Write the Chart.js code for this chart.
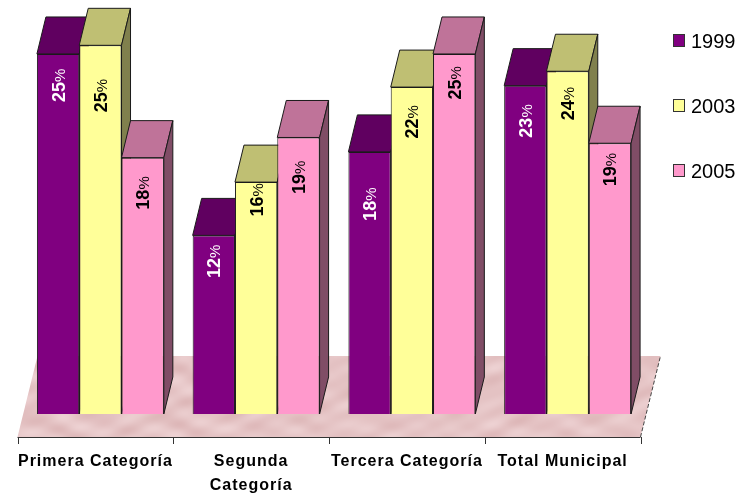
<!DOCTYPE html>
<html>
<head>
<meta charset="utf-8">
<style>
  html, body { margin: 0; padding: 0; background: #fff; }
  canvas { display: block; filter: blur(0.35px); }
</style>
<script src="https://cdn.jsdelivr.net/npm/chart.js@4"></script>
</head>
<body>
<canvas id="barChart" width="736" height="495"></canvas>
<script>
// Data
const categories = ['Primera Categoría', ['Segunda', 'Categoría'], 'Tercera Categoría', 'Total Municipal'];
const seriesNames = ['1999', '2003', '2005'];
const values1999 = [25, 12.4, 18.2, 22.8];
const values2003 = [25.6, 16.1, 22.7, 23.8];
const values2005 = [17.8, 19.2, 25, 18.8];
const labels1999 = ['25', '12', '18', '23'];
const labels2003 = ['25', '16', '22', '24'];
const labels2005 = ['18', '19', '25', '19'];

// Distance in px from the top of each bar to the middle of its label
const labelDrop = [
    [31, 25.5, 52, 35],
    [50, 17.5, 34.5, 32],
    [35, 39.5, 28.5, 26]
];

const frontColors = ['#800080', '#FFFF99', '#FF99CC'];
const topColors = ['#600060', '#BFBF73', '#BF7399'];
const sideColors = ['#400040', '#80804D', '#804D66'];
const labelColors = ['#ffffff', '#000000', '#000000'];
const edgeColor = '#1a1a1a';

const depthX = 9;
const depthY = 37;
const floorDepthX = 20;
const floorDepthY = 81;
const axisShift = 5;

// Mottled texture of the floor
function floorPattern(ctx) {
    const tile = document.createElement('canvas');
    tile.width = 736;
    tile.height = 495;
    const tileCtx = tile.getContext('2d');
    const img = tileCtx.createImageData(736, 495);
    for (let y = 0; y < 495; y++) {
        for (let x = 0; x < 736; x++) {
            const n = Math.sin(x * 0.09 + Math.sin(y * 0.11) * 2.5)
                + Math.sin(y * 0.23 + Math.sin(x * 0.05) * 3)
                + Math.sin((x + y * 2) * 0.17) * 0.6;
            const i = (y * 736 + x) * 4;
            img.data[i] = 229 + n * 3;
            img.data[i + 1] = 196 + n * 5;
            img.data[i + 2] = 197 + n * 5;
            img.data[i + 3] = 255;
        }
    }
    tileCtx.putImageData(img, 0, 0);
    return ctx.createPattern(tile, 'no-repeat');
}

function polygon(ctx, points, fill, stroke) {
    ctx.beginPath();
    points.forEach((p, i) => i ? ctx.lineTo(p[0], p[1]) : ctx.moveTo(p[0], p[1]));
    ctx.closePath();
    ctx.fillStyle = fill;
    ctx.fill();
    if (stroke) {
        ctx.strokeStyle = stroke;
        ctx.lineWidth = 1;
        ctx.stroke();
    }
}

const scene3d = {
    id: 'scene3d',
    beforeDraw(chart) {
        // letter spacing for the category labels, drawn by the x axis
        chart.ctx.letterSpacing = '1px';
    },
    beforeDatasetsDraw(chart) {
        const ctx = chart.ctx;
        const area = chart.chartArea;
        const left = area.left - axisShift;
        const right = area.right - axisShift;
        const bottom = area.bottom;

        // Floor
        ctx.save();
        polygon(ctx, [
            [left, bottom], [right, bottom],
            [right + floorDepthX, bottom - floorDepthY], [left + floorDepthX, bottom - floorDepthY]
        ], floorPattern(ctx));
        ctx.strokeStyle = '#444444';
        ctx.lineWidth = 1;
        ctx.setLineDash([4, 2]);
        ctx.beginPath();
        ctx.moveTo(right, bottom);
        ctx.lineTo(right + floorDepthX, bottom - floorDepthY);
        ctx.stroke();
        ctx.setLineDash([]);

        // Axis line and its ticks, on the front edge of the floor
        ctx.strokeStyle = '#333333';
        ctx.beginPath();
        ctx.moveTo(left, bottom + 0.5);
        ctx.lineTo(right, bottom + 0.5);
        const band = (right - left) / categories.length;
        for (let i = 0; i <= categories.length; i++) {
            const x = Math.round(left + band * i) + 0.5;
            ctx.moveTo(x, bottom);
            ctx.lineTo(x, bottom + 7);
        }
        ctx.stroke();

        // Top and side of each bar, left to right, so the fronts cover them
        categories.forEach((c, i) => {
            chart.data.datasets.forEach((ds, d) => {
                const bar = chart.getDatasetMeta(d).data[i];
                const half = bar.width / 2;
                const x0 = bar.x - half;
                const x1 = bar.x + half;
                polygon(ctx, [
                    [x0, bar.y], [x1, bar.y],
                    [x1 + depthX, bar.y - depthY], [x0 + depthX, bar.y - depthY]
                ], topColors[d], edgeColor);
                polygon(ctx, [
                    [x1, bar.y], [x1 + depthX, bar.y - depthY],
                    [x1 + depthX, bar.base - depthY], [x1, bar.base]
                ], sideColors[d], edgeColor);
            });
        });
        ctx.restore();
    },
    afterDatasetsDraw(chart) {
        const ctx = chart.ctx;
        const shown = [labels1999, labels2003, labels2005];
        ctx.save();
        ctx.letterSpacing = '0px';
        chart.data.datasets.forEach((ds, d) => {
            chart.getDatasetMeta(d).data.forEach((bar, i) => {
                ctx.save();
                ctx.translate(bar.x, bar.y + labelDrop[d][i]);
                ctx.rotate(-Math.PI / 2);
                ctx.fillStyle = labelColors[d];
                ctx.textBaseline = 'alphabetic';
                ctx.textAlign = 'left';
                ctx.font = 'bold 18px "Liberation Sans"';
                const numWidth = ctx.measureText(shown[d][i]).width;
                ctx.fillText(shown[d][i], -17, 6.5);
                ctx.font = '15px "Liberation Sans"';
                ctx.fillText('%', -17 + numWidth, 6.5);
                ctx.restore();
            });
        });

        // Legend
        seriesNames.forEach((name, d) => {
            const y = 41 + d * 65;
            ctx.fillStyle = frontColors[d];
            ctx.fillRect(673.5, y - 6.5, 11, 12);
            ctx.strokeStyle = '#333333';
            ctx.lineWidth = 1;
            ctx.strokeRect(673.5, y - 6.5, 11, 12);
            ctx.fillStyle = '#000000';
            ctx.font = '20px "Liberation Sans"';
            ctx.textBaseline = 'middle';
            ctx.textAlign = 'left';
            ctx.fillText(name, 691, y + 1);
        });
        ctx.restore();
    }
};

const barChart = new Chart(document.getElementById('barChart').getContext('2d'), {
    type: 'bar',
    data: {
        labels: categories,
        datasets: [
            { label: seriesNames[0], data: values1999, backgroundColor: frontColors[0] },
            { label: seriesNames[1], data: values2003, backgroundColor: frontColors[1] },
            { label: seriesNames[2], data: values2005, backgroundColor: frontColors[2] }
        ]
    },
    options: {
        responsive: false,
        animation: false,
        layout: { padding: { left: 22.5, right: 90.5, top: 5, bottom: 0 } },
        datasets: {
            bar: {
                barPercentage: 1,
                categoryPercentage: 0.815,
                borderWidth: 1,
                borderColor: edgeColor
            }
        },
        plugins: {
            legend: { display: false },
            tooltip: { enabled: false }
        },
        scales: {
            x: {
                afterFit(scale) { scale.height = 58; },
                grid: { display: false },
                border: { display: false },
                ticks: {
                    autoSkip: false,
                    maxRotation: 0,
                    minRotation: 0,
                    labelOffset: -axisShift,
                    padding: 5,
                    color: '#000000',
                    font: { family: '"Liberation Sans"', size: 16, weight: 'bold', lineHeight: 1.5 }
                }
            },
            y: {
                display: false,
                min: -1.6,
                max: 28.4
            }
        }
    },
    plugins: [scene3d]
});
</script>
</body>
</html>
